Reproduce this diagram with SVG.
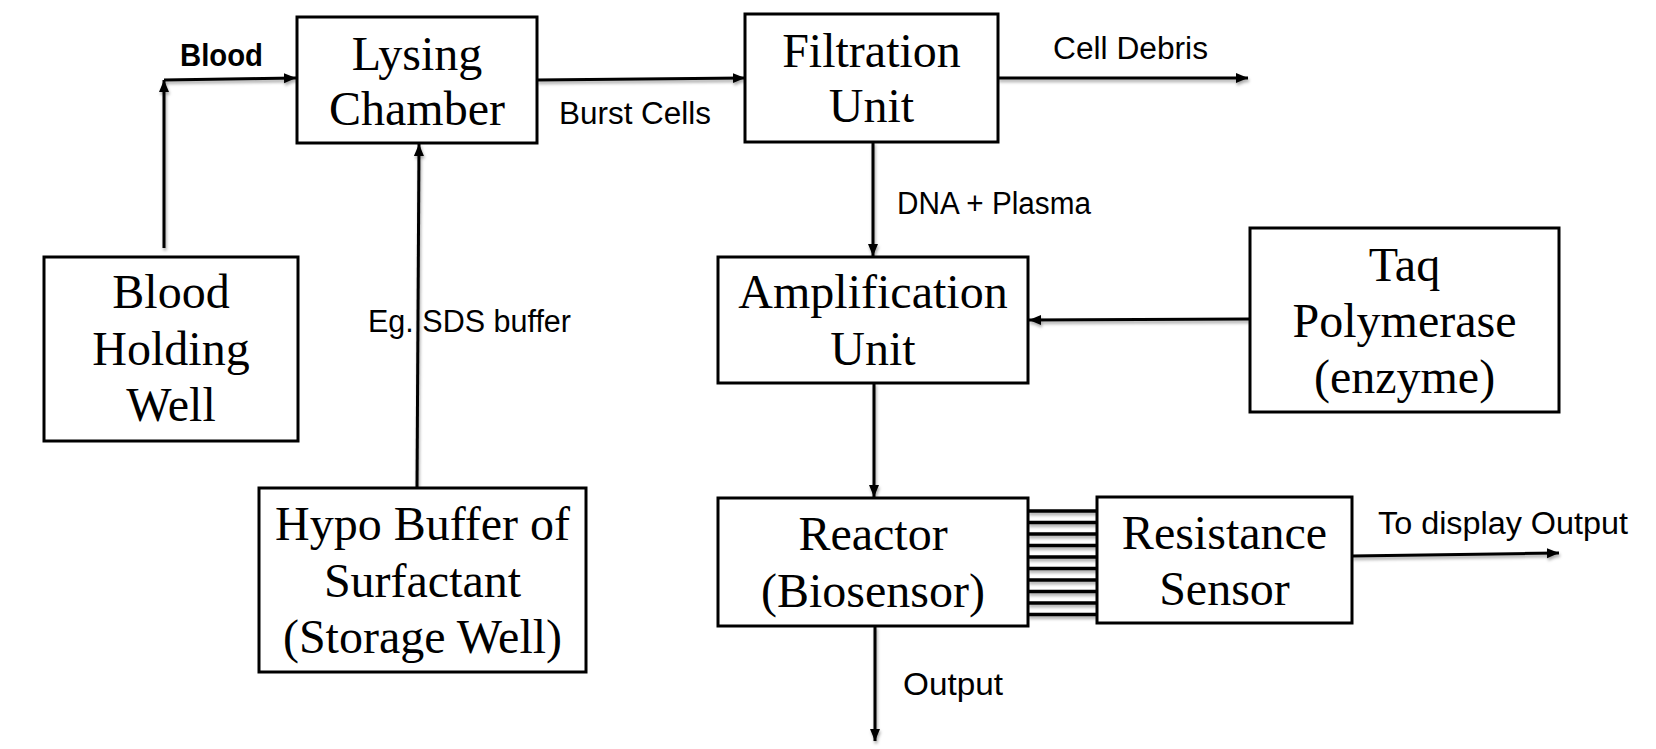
<svg xmlns="http://www.w3.org/2000/svg" width="1656" height="749" viewBox="0 0 1656 749">
<style>
.box{fill:#fff;stroke:#000;stroke-width:3}
.t{font-family:"Liberation Serif","Times New Roman",serif;font-size:48px;fill:#000;text-anchor:middle}
.l{font-family:"Liberation Sans",Arial,sans-serif;font-size:31px;fill:#000}
.c{fill:none;stroke:#000;stroke-width:3;filter:url(#sh)}
.w{fill:none;stroke:#000;stroke-width:3.5;filter:url(#sh)}
</style>
<defs>
<marker id="ah" markerUnits="userSpaceOnUse" markerWidth="14" markerHeight="12" refX="12" refY="6" orient="auto">
<path d="M0,1 L12,6 L0,11 Z" fill="#000"/>
</marker>
<filter id="sh" filterUnits="userSpaceOnUse" x="0" y="0" width="1656" height="749">
<feDropShadow dx="1" dy="2.5" stdDeviation="1.5" flood-color="#000" flood-opacity="0.35"/>
</filter>
</defs>
<rect width="1656" height="749" fill="#fff"/>
<g id="connectors">
<path class="c" d="M164,248 L164,80" marker-end="url(#ah)"/>
<path class="c" d="M164,80 L296,78" marker-end="url(#ah)"/>
<path class="c" d="M417,488 L419,144" marker-end="url(#ah)"/>
<path class="c" d="M537,80 L745,78" marker-end="url(#ah)"/>
<path class="c" d="M998,78 L1248,78" marker-end="url(#ah)"/>
<path class="c" d="M873,142 L873,256" marker-end="url(#ah)"/>
<path class="c" d="M1250,319 L1029,320" marker-end="url(#ah)"/>
<path class="c" d="M874,383 L874,497" marker-end="url(#ah)"/>
<path class="c" d="M875,626 L875,741" marker-end="url(#ah)"/>
<path class="c" d="M1352,556 L1559,553" marker-end="url(#ah)"/>
<g id="wires">
<path class="w" d="M1028,511 H1097"/>
<path class="w" d="M1028,522.5 H1097"/>
<path class="w" d="M1028,534 H1097"/>
<path class="w" d="M1028,545.5 H1097"/>
<path class="w" d="M1028,557 H1097"/>
<path class="w" d="M1028,568.5 H1097"/>
<path class="w" d="M1028,580 H1097"/>
<path class="w" d="M1028,591.5 H1097"/>
<path class="w" d="M1028,603 H1097"/>
<path class="w" d="M1028,614.5 H1097"/>
</g>
<text class="l" x="180" y="66" font-weight="bold" textLength="83" lengthAdjust="spacingAndGlyphs">Blood</text>
<text class="l" x="559" y="124" textLength="152" lengthAdjust="spacingAndGlyphs">Burst Cells</text>
<text class="l" x="1053" y="59" textLength="155" lengthAdjust="spacingAndGlyphs">Cell Debris</text>
<text class="l" x="897" y="214" textLength="194" lengthAdjust="spacingAndGlyphs">DNA + Plasma</text>
<text class="l" x="368" y="332" textLength="203" lengthAdjust="spacingAndGlyphs">Eg. SDS buffer</text>
<text class="l" x="903" y="695" textLength="100" lengthAdjust="spacingAndGlyphs">Output</text>
<text class="l" x="1378" y="534" textLength="250" lengthAdjust="spacingAndGlyphs">To display Output</text>
</g>
<g id="blood-holding-well">
<rect class="box" x="44" y="257" width="254" height="184"/>
<text class="t" x="171" y="308">Blood</text>
<text class="t" x="171" y="365">Holding</text>
<text class="t" x="171" y="421">Well</text>
</g>
<g id="lysing-chamber">
<rect class="box" x="297" y="17" width="240" height="126"/>
<text class="t" x="417" y="70">Lysing</text>
<text class="t" x="417" y="125">Chamber</text>
</g>
<g id="hypo-buffer">
<rect class="box" x="259" y="488" width="327" height="184"/>
<text class="t" x="422.5" y="540">Hypo Buffer of</text>
<text class="t" x="422.5" y="597">Surfactant</text>
<text class="t" x="422.5" y="653">(Storage Well)</text>
</g>
<g id="filtration-unit">
<rect class="box" x="745" y="14" width="253" height="128"/>
<text class="t" x="871.5" y="67">Filtration</text>
<text class="t" x="871.5" y="122">Unit</text>
</g>
<g id="amplification-unit">
<rect class="box" x="718" y="257" width="310" height="126"/>
<text class="t" x="873" y="308">Amplification</text>
<text class="t" x="873" y="365">Unit</text>
</g>
<g id="taq-polymerase">
<rect class="box" x="1250" y="228" width="309" height="184"/>
<text class="t" x="1404.5" y="281">Taq</text>
<text class="t" x="1404.5" y="337">Polymerase</text>
<text class="t" x="1404.5" y="393">(enzyme)</text>
</g>
<g id="reactor">
<rect class="box" x="718" y="498" width="310" height="128"/>
<text class="t" x="873" y="550">Reactor</text>
<text class="t" x="873" y="607">(Biosensor)</text>
</g>
<g id="resistance-sensor">
<rect class="box" x="1097" y="497" width="255" height="126"/>
<text class="t" x="1224.5" y="549">Resistance</text>
<text class="t" x="1224.5" y="605">Sensor</text>
</g>
</svg>
